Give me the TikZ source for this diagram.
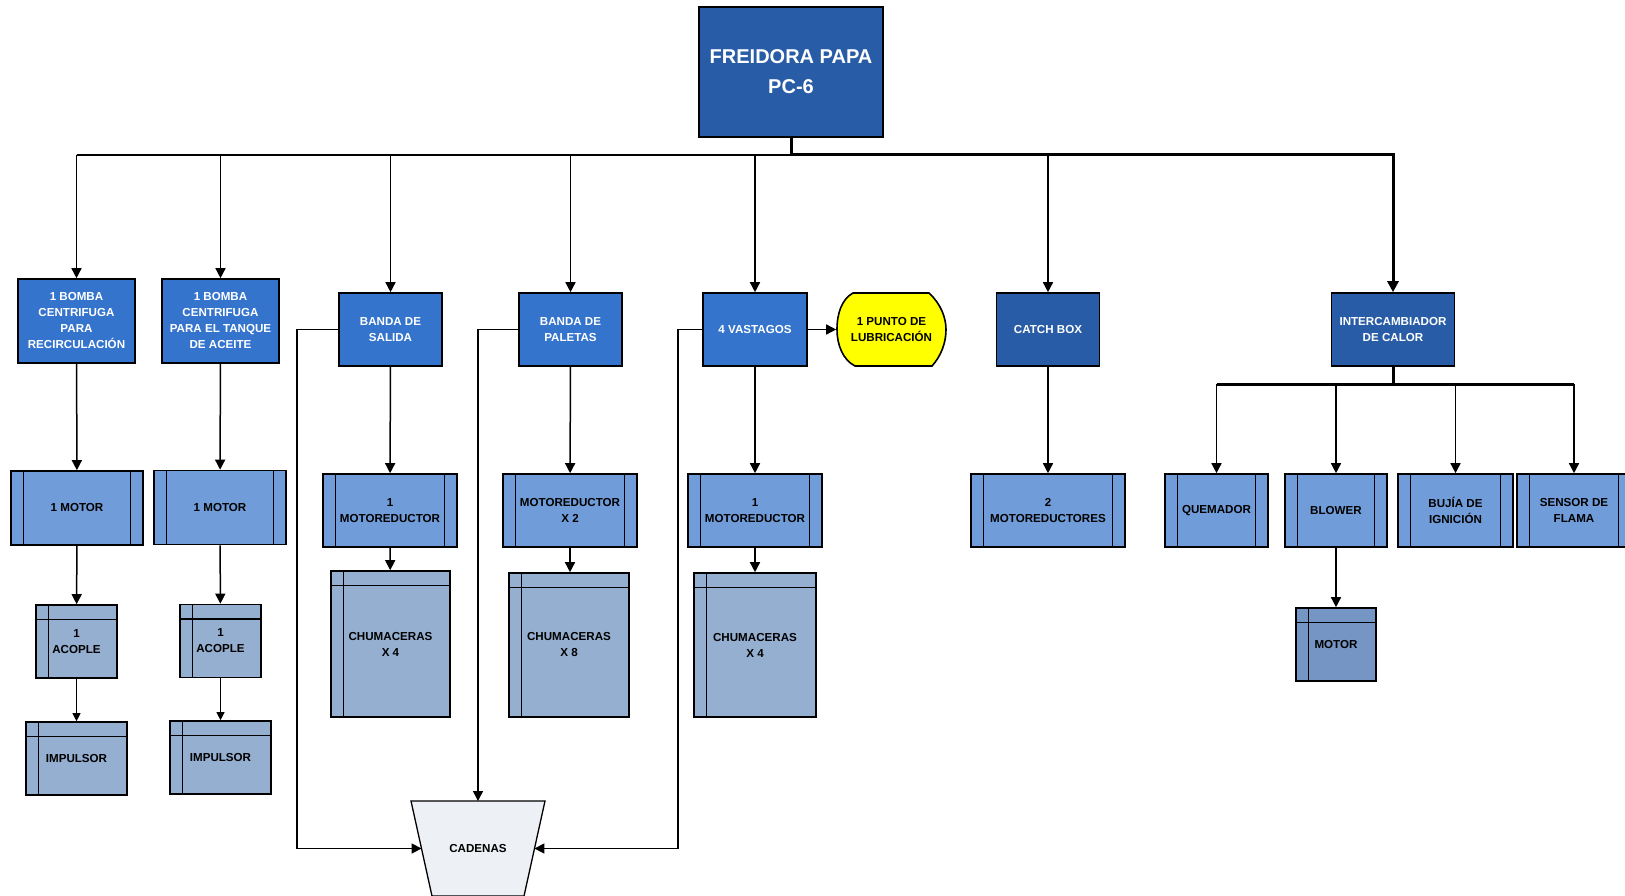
\documentclass[tikz,border=0pt]{standalone}
\usepackage{fontspec}
\setmainfont{Liberation Sans}
\usetikzlibrary{arrows.meta}

\definecolor{cDark}{RGB}{41,92,166}
\definecolor{cMid}{RGB}{52,116,204}
\definecolor{cProc}{RGB}{112,157,217}
\definecolor{cStore}{RGB}{149,175,208}
\definecolor{cStoreB}{RGB}{117,150,196}
\definecolor{cCad}{RGB}{237,240,245}
\definecolor{cLub}{RGB}{255,255,0}

\tikzset{
  base/.style={draw=black, line width=1.6pt, align=center, inner sep=0pt,
    font=\fontsize{11.6}{16}\selectfont\bfseries},
  darkbox/.style={base, fill=cDark, text=white},
  midbox/.style={base, fill=cMid, text=white},
  procbox/.style={base, fill=cProc, path picture={
    \draw[line width=1.6pt] ([xshift=12.5pt]path picture bounding box.north west) -- ([xshift=12.5pt]path picture bounding box.south west);
    \draw[line width=1.6pt] ([xshift=-12.5pt]path picture bounding box.north east) -- ([xshift=-12.5pt]path picture bounding box.south east);}},
  storebox/.style={base, fill=cStore, path picture={
    \draw[line width=1.6pt] ([xshift=12.5pt]path picture bounding box.north west) -- ([xshift=12.5pt]path picture bounding box.south west);
    \draw[line width=1.6pt] ([yshift=-14.5pt]path picture bounding box.north west) -- ([yshift=-14.5pt]path picture bounding box.north east);}},
  link/.style={line width=1.5pt},
  bus/.style={line width=3pt},
  arr/.style={line width=1.5pt, -{Triangle[length=10pt,width=10pt]}},
  arrsmall/.style={line width=1pt, -{Triangle[length=8pt,width=8pt]}},
}

\begin{document}
\begin{tikzpicture}[x=1pt, y=-1pt]
\useasboundingbox (0,0) rectangle (1625,896);

% top of the tree
\node[darkbox, minimum width=184pt, minimum height=130pt,
  font=\fontsize{20}{30}\selectfont\bfseries] (top) at (791,72) {FREIDORA PAPA\\PC-6};

% first level
\node[midbox, minimum width=117pt, minimum height=84pt] (bomba1) at (76.5,321) {1 BOMBA\\CENTRIFUGA\\PARA\\RECIRCULACIÓN};
\node[midbox, minimum width=117pt, minimum height=84pt] (bomba2) at (220.5,321) {1 BOMBA\\CENTRIFUGA\\PARA EL TANQUE\\DE ACEITE};
\node[midbox, minimum width=103pt, minimum height=73pt] (salida) at (390.5,329.5) {BANDA DE\\SALIDA};
\node[midbox, minimum width=103pt, minimum height=73pt] (paletas) at (570.5,329.5) {BANDA DE\\PALETAS};
\node[midbox, minimum width=104pt, minimum height=73pt] (vastagos) at (755,329.5) {4 VASTAGOS};
\node[darkbox, minimum width=103pt, minimum height=73pt] (catch) at (1048,329.5) {CATCH BOX};
\node[darkbox, minimum width=123pt, minimum height=73pt] (inter) at (1393,329.5) {INTERCAMBIADOR\\DE CALOR};

% lubrication point (display shape)
\filldraw[fill=cLub, draw=black, line width=1.6pt]
  (853,293) -- (929,293) .. controls (941,304) and (946,318) .. (946,329.5)
  .. controls (946,343) and (941,356) .. (932,366) -- (855,366)
  .. controls (843,360) and (837,345) .. (837,329.5)
  .. controls (837,313) and (842,299) .. (853,293) -- cycle;
\node[base, draw=none, minimum width=109pt, minimum height=73pt] (lub) at (891.5,329.5) {1 PUNTO DE\\LUBRICACIÓN};

% pumps
\node[procbox, minimum width=132pt, minimum height=74pt] (motor1) at (77,508) {1 MOTOR};
\node[procbox, minimum width=132pt, minimum height=74pt] (motor2) at (220,507.5) {1 MOTOR};
\node[storebox, minimum width=81pt, minimum height=73pt] (acople1) at (76.5,641.5) {1\\ACOPLE};
\node[storebox, minimum width=81pt, minimum height=73pt] (acople2) at (220.5,641) {1\\ACOPLE};
\node[storebox, minimum width=101pt, minimum height=73pt] (imp1) at (76.5,758.5) {IMPULSOR};
\node[storebox, minimum width=101pt, minimum height=73pt] (imp2) at (220.5,757.5) {IMPULSOR};

% belts and rods
\node[procbox, minimum width=134pt, minimum height=73pt] (mr1) at (390,510.5) {1\\MOTOREDUCTOR};
\node[procbox, minimum width=134pt, minimum height=73pt] (mr2) at (570,510.5) {MOTOREDUCTOR\\X 2};
\node[procbox, minimum width=134pt, minimum height=73pt] (mr3) at (755,510.5) {1\\MOTOREDUCTOR};
\node[storebox, minimum width=119pt, minimum height=146pt] (chum1) at (390.5,644) {CHUMACERAS\\X 4};
\node[storebox, minimum width=120pt, minimum height=144pt] (chum2) at (569,645) {CHUMACERAS\\X 8};
\node[storebox, minimum width=122pt, minimum height=144pt] (chum3) at (755,645) {CHUMACERAS\\X 4};

% chains (inverted trapezoid)
\filldraw[fill=cCad, draw=black, line width=1.3pt] (411,801) -- (545,801) -- (524,896) -- (432,896) -- cycle;
\node[base, draw=none] (cadenas) at (478,848.5) {CADENAS};
\coordinate (cadN) at (478,801);
\coordinate (cadW) at (421.6,848.5);
\coordinate (cadE) at (534.4,848.5);

% catch box and heat exchanger
\node[procbox, minimum width=154pt, minimum height=73pt] (mr4) at (1048,510.5) {2\\MOTOREDUCTORES};
\node[procbox, minimum width=103pt, minimum height=73pt] (quem) at (1216.5,510.5) {QUEMADOR};
\node[procbox, minimum width=102pt, minimum height=73pt] (blower) at (1336,510.5) {BLOWER};
\node[procbox, minimum width=115pt, minimum height=73pt] (bujia) at (1455.5,510.5) {BUJÍA DE\\IGNICIÓN};
\node[procbox, minimum width=114pt, minimum height=73pt] (sensor) at (1574,510.5) {SENSOR DE\\FLAMA};
\node[storebox, fill=cStoreB, minimum width=80pt, minimum height=73pt] (bmotor) at (1336,644.5) {MOTOR};

% main distribution line
\coordinate (busL) at (76.5,155);
\coordinate (busR) at (1393,155);
\draw[link] (bomba1.north |- busL) -- (top.south |- busL);
\draw[bus, -{Triangle[length=11pt,width=11pt]}] (top.south) -- (top.south |- busL) -- (busR) -- (inter.north);
\foreach \n in {bomba1,bomba2,salida,paletas,vastagos,catch}
  \draw[arr] (\n.north |- busL) -- (\n.north);

% pump chains
\draw[arr] (bomba1) -- (motor1);
\draw[arr] (bomba2) -- (motor2);
\draw[arr] (motor1) -- (acople1);
\draw[arr] (motor2) -- (acople2);
\draw[arrsmall] (acople1) -- (imp1);
\draw[arrsmall] (acople2) -- (imp2);

% belts and rods
\draw[arr] (salida) -- (mr1);
\draw[arr] (mr1) -- (chum1);
\draw[arr] (paletas) -- (mr2);
\draw[arr] (mr2.south) -- (mr2.south |- chum2.north);
\draw[arr] (vastagos) -- (mr3);
\draw[arr] (mr3) -- (chum3);
\draw[arr] (vastagos) -- (lub);

% feeds into the chains
\coordinate (loopA) at (297,329.5);
\coordinate (loopB) at (478,329.5);
\coordinate (loopC) at (678,329.5);
\draw[arr] (salida.west) -- (loopA) |- (cadW);
\draw[arr] (paletas.west) -- (loopB) -- (cadN);
\draw[arr] (vastagos.west) -- (loopC) |- (cadE);

% catch box
\draw[arr] (catch) -- (mr4);

% heat exchanger branches
\coordinate (hbus) at (1393,384);
\draw[bus] (inter.south) -- (hbus);
\draw[bus] (quem.north |- hbus) -- (sensor.north |- hbus);
\foreach \n in {quem,blower,bujia,sensor}
  \draw[arr] (\n.north |- hbus) -- (\n.north);
\draw[arr] (blower) -- (bmotor);
\end{tikzpicture}
\end{document}
